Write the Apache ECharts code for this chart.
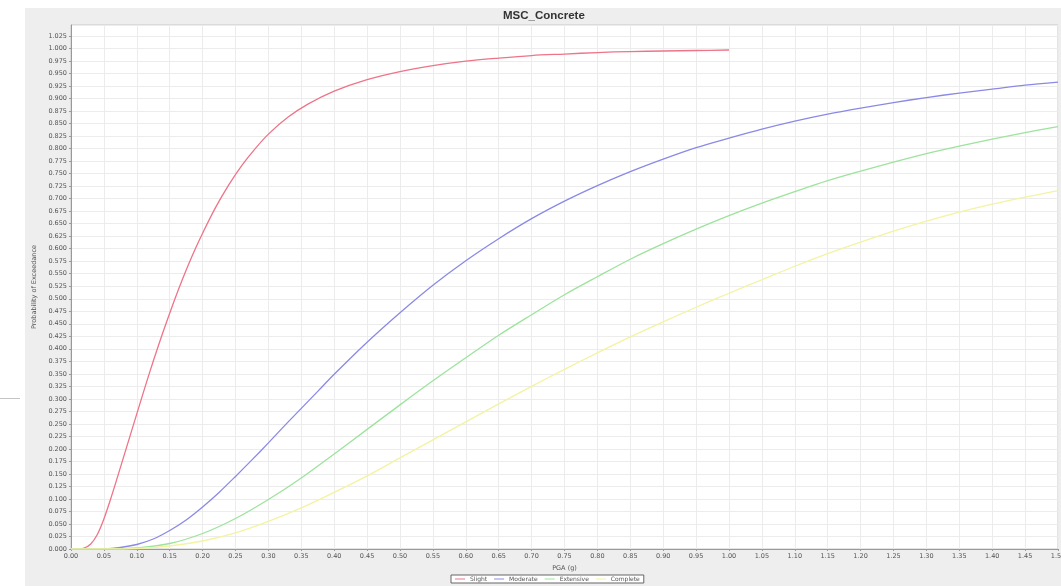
<!DOCTYPE html>
<html>
<head>
<meta charset="utf-8">
<script src="https://cdn.jsdelivr.net/npm/echarts@6/dist/echarts.min.js"></script>
<style>
  html, body { margin: 0; padding: 0; background: #ffffff; }
  #panel { position: absolute; left: 25px; top: 8px; width: 1036px; height: 578px; background: #eeeeee; }
  #stub { position: absolute; left: 0px; top: 398px; width: 20px; height: 1px; background: #c4c4c4; }
  #chart { position: absolute; left: 0; top: 0; width: 1061px; height: 586px; }
</style>
</head>
<body>
<div id="panel"></div>
<div id="stub"></div>
<div id="chart"></div>
<script>
const chartTitle = "MSC_Concrete";
const xAxisTitle = "PGA (g)";
const yAxisTitle = "Probability of Exceedance";
const seriesNames = ["Slight", "Moderate", "Extensive", "Complete"];

const slightX = [0, 0.01, 0.02, 0.03, 0.04, 0.05, 0.06, 0.07, 0.08, 0.09, 0.10, 0.11, 0.12, 0.13, 0.14, 0.15, 0.16, 0.17, 0.18, 0.19, 0.20, 0.22, 0.24, 0.26, 0.28, 0.30, 0.33, 0.36, 0.40, 0.45, 0.50, 0.55, 0.60, 0.65, 0.70, 0.75, 0.80, 0.85, 0.90, 0.95, 1.00];
const slightY = [0, 0, 0.002, 0.010, 0.029, 0.060, 0.099, 0.141, 0.184, 0.227, 0.270, 0.313, 0.355, 0.395, 0.434, 0.471, 0.507, 0.541, 0.573, 0.603, 0.631, 0.683, 0.728, 0.767, 0.800, 0.829, 0.863, 0.889, 0.915, 0.938, 0.954, 0.966, 0.975, 0.981, 0.986, 0.989, 0.992, 0.994, 0.995, 0.996, 0.997];

const moderateX = [0, 0.05, 0.075, 0.10, 0.125, 0.15, 0.175, 0.20, 0.225, 0.25, 0.275, 0.30, 0.325, 0.35, 0.375, 0.40, 0.45, 0.50, 0.55, 0.60, 0.65, 0.70, 0.75, 0.80, 0.85, 0.90, 0.95, 1.00, 1.05, 1.10, 1.15, 1.20, 1.25, 1.30, 1.35, 1.40, 1.45, 1.50];
const moderateY = [0, 0.0004, 0.003, 0.009, 0.020, 0.037, 0.058, 0.084, 0.113, 0.145, 0.178, 0.212, 0.247, 0.281, 0.315, 0.349, 0.413, 0.472, 0.527, 0.576, 0.620, 0.660, 0.695, 0.726, 0.754, 0.779, 0.802, 0.821, 0.839, 0.855, 0.869, 0.881, 0.892, 0.902, 0.911, 0.919, 0.927, 0.933];

const gridX = [0, 0.05, 0.10, 0.15, 0.20, 0.25, 0.30, 0.35, 0.40, 0.45, 0.50, 0.55, 0.60, 0.65, 0.70, 0.75, 0.80, 0.85, 0.90, 0.95, 1.00, 1.05, 1.10, 1.15, 1.20, 1.25, 1.30, 1.35, 1.40, 1.45, 1.50];
const extensiveY = [0, 0.0001, 0.002, 0.011, 0.031, 0.061, 0.099, 0.142, 0.190, 0.239, 0.288, 0.336, 0.382, 0.427, 0.468, 0.508, 0.544, 0.579, 0.610, 0.639, 0.666, 0.691, 0.714, 0.736, 0.755, 0.773, 0.790, 0.805, 0.819, 0.832, 0.844];
const completeY = [0, 0, 0.001, 0.006, 0.016, 0.032, 0.055, 0.082, 0.113, 0.146, 0.182, 0.218, 0.254, 0.290, 0.325, 0.359, 0.392, 0.424, 0.454, 0.483, 0.511, 0.538, 0.565, 0.590, 0.613, 0.635, 0.655, 0.673, 0.689, 0.703, 0.716];

const colors = ["#ee7488", "#8a8ae6", "#9de39d", "#f3f3a2"];

function pairs(xs, ys) { return xs.map((x, i) => [x, ys[i]]); }

const chart = echarts.init(document.getElementById('chart'), null, { renderer: 'canvas' });
const lbl = { fontFamily: 'DejaVu Sans', fontSize: 6.5, color: '#555' };

function lineSeries(i, data) {
  return {
    name: seriesNames[i], type: 'line', data: data,
    smooth: 0.3, showSymbol: false,
    lineStyle: { width: 1.3, color: colors[i] }, itemStyle: { color: colors[i] }
  };
}

chart.setOption({
  backgroundColor: 'transparent',
  animation: false,
  title: {
    text: chartTitle,
    left: 503, top: 10,
    padding: 0,
    textStyle: { fontFamily: 'Liberation Sans', fontWeight: 'bold', fontSize: 11.5, color: '#333' }
  },
  legend: {
    data: seriesNames,
    bottom: 3, left: 451,
    icon: 'rect', itemWidth: 10, itemHeight: 1,
    itemGap: 7,
    padding: [1, 4],
    borderColor: '#666', borderWidth: 1,
    backgroundColor: '#fff',
    textStyle: { fontFamily: 'DejaVu Sans', fontSize: 6, color: '#555' }
  },
  grid: {
    left: 71, right: 3, top: 25, bottom: 37,
    outerBoundsMode: 'none',
    containLabel: false,
    show: true, backgroundColor: '#ffffff', borderColor: '#c8c8c8', borderWidth: 1
  },
  xAxis: {
    type: 'value', min: 0, max: 1.5, interval: 0.05,
    name: xAxisTitle, nameLocation: 'middle', nameGap: 15,
    nameTextStyle: lbl,
    axisLine: { show: true, lineStyle: { color: '#999' } },
    axisTick: { show: true, length: 2, lineStyle: { color: '#999' } },
    axisLabel: Object.assign({ margin: 4, formatter: v => v.toFixed(2) }, lbl),
    splitLine: { show: true, lineStyle: { color: '#ececec', width: 1 } }
  },
  yAxis: {
    type: 'value', min: 0, max: 1.047, interval: 0.025,
    name: yAxisTitle, nameLocation: 'middle', nameGap: 33,
    nameTextStyle: lbl,
    axisLine: { show: true, lineStyle: { color: '#999' } },
    axisTick: { show: true, length: 2, lineStyle: { color: '#999' } },
    axisLabel: Object.assign({ margin: 4, showMaxLabel: false, formatter: v => v.toFixed(3) }, lbl),
    splitLine: { show: true, lineStyle: { color: '#ececec', width: 1 } }
  },
  series: [
    lineSeries(0, pairs(slightX, slightY)),
    lineSeries(1, pairs(moderateX, moderateY)),
    lineSeries(2, pairs(gridX, extensiveY)),
    lineSeries(3, pairs(gridX, completeY))
  ]
});
</script>
</body>
</html>
